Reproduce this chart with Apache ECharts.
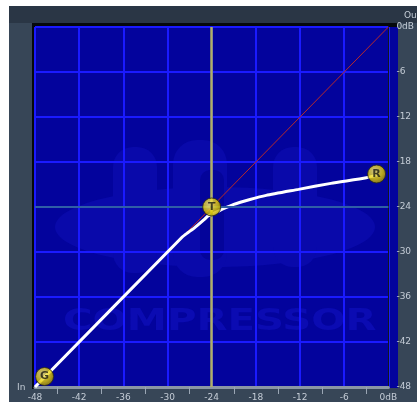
<!DOCTYPE html>
<html>
<head>
<meta charset="utf-8">
<script src="https://cdn.jsdelivr.net/npm/echarts@6/dist/echarts.min.js"></script>
<style>
  html, body { margin: 0; padding: 0; background: #fff; }
  #chart { width: 417px; height: 402px; }
</style>
</head>
<body>
<div id="chart"></div>
<script>
// transfer curve (input dB -> output dB)
const inputDb = [-48, -28, -27.2, -26.3, -25, -24.5, -23.5, -22.55, -21, -18.8, -16.6, -12.2, -7.8, -3, -1.6]
const outputDb = [-48, -28, -27.4, -26.75, -25.65, -25.2, -24.75, -24.3, -23.65, -23.0, -22.45, -21.65, -20.85, -20.1, -19.75]

// unity (1:1) reference line
const unityIn = [-48, 0]
const unityOut = [-48, 0]

// handles
const handleNames = ['G', 'T', 'R']
const handleIn = [-46.7, -24, -1.6]
const handleOut = [-46.6, -24, -19.6]

const thresholdDb = -24
const axisMin = -48
const axisMax = 0
const axisStep = 6

const chart = echarts.init(document.getElementById('chart'))

const labelText = (v) => (v === 0 ? '0dB' : String(v))
const labelStyle = { color: '#c4ccd6', fontSize: 9, fontFamily: 'DejaVu Sans' }

const handleGradient = new echarts.graphic.RadialGradient(0.4, 0.35, 0.7, [
  { offset: 0, color: '#fff27a' },
  { offset: 0.6, color: '#e6cf00' },
  { offset: 1, color: '#9a8600' },
])

// logo colour, a little lighter than the plot background
const logo = '#0909aa'

chart.setOption({
  backgroundColor: '#374657',
  animation: false,
  graphic: [
    // white outer margin
    { type: 'rect', z: -20, shape: { x: 0, y: 0, width: 417, height: 6 }, style: { fill: '#ffffff' } },
    { type: 'rect', z: -20, shape: { x: 0, y: 0, width: 9, height: 402 }, style: { fill: '#ffffff' } },
    // top bar
    { type: 'rect', z: -19, shape: { x: 9, y: 6, width: 408, height: 17 }, style: { fill: '#2a3645' } },
    // shadow on top and left of plot
    { type: 'rect', z: -18, shape: { x: 32, y: 23, width: 366, height: 4 }, style: { fill: '#05080c' } },
    { type: 'rect', z: -18, shape: { x: 32, y: 23, width: 4, height: 366 }, style: { fill: '#05080c' } },
    // plot background
    { type: 'rect', z: -17, shape: { x: 35, y: 27, width: 363, height: 361 }, style: { fill: '#03039c' } },
    // watermark logo
    { type: 'ellipse', z: -16, shape: { cx: 215, cy: 227, rx: 160, ry: 40 }, style: { fill: logo } },
    { type: 'rect', z: -16, shape: { x: 113, y: 147, width: 44, height: 126, r: 20 }, style: { fill: logo } },
    { type: 'rect', z: -16, shape: { x: 173, y: 140, width: 54, height: 137, r: 24 }, style: { fill: logo } },
    { type: 'rect', z: -16, shape: { x: 273, y: 147, width: 44, height: 120, r: 20 }, style: { fill: logo } },
    { type: 'rect', z: -15, shape: { x: 200, y: 170, width: 24, height: 90, r: 10 }, style: { fill: '#04049a' } },
    {
      type: 'text', z: -15, x: 63, y: 306, scaleX: 1.3,
      style: { text: 'COMPRESSOR', font: 'bold 31px "DejaVu Sans"', fill: '#0b0bb2' },
    },
    // axis titles
    { type: 'text', left: 404, top: 11, style: { text: 'Out', fill: '#c4ccd6', font: '9px "DejaVu Sans"' } },
    { type: 'text', left: 17, top: 383, style: { text: 'In', fill: '#c4ccd6', font: '9px "DejaVu Sans"' } },
  ],
  grid: {
    left: 35, right: 19, top: 27, bottom: 14,
    show: false,
  },
  xAxis: {
    type: 'value', min: axisMin, max: axisMax, interval: axisStep,
    axisLine: { show: true, onZero: false, lineStyle: { color: '#8a96a4', width: 3 } },
    axisTick: { show: false },
    minorTick: { show: true, splitNumber: 2, length: 7, lineStyle: { color: '#9aa6b4', width: 1 } },
    axisLabel: { ...labelStyle, margin: 6, formatter: labelText },
    splitLine: { show: true, lineStyle: { color: '#1a1aff', width: 2 } },
  },
  yAxis: {
    type: 'value', min: axisMin, max: axisMax, interval: axisStep, position: 'right',
    axisLine: { show: true, onZero: false, lineStyle: { color: '#101820', width: 1 } },
    axisTick: { show: false },
    axisLabel: { ...labelStyle, margin: 8, formatter: labelText },
    splitLine: { show: true, lineStyle: { color: '#1a1aff', width: 2 } },
  },
  series: [
    {
      type: 'line',
      data: unityIn.map((v, i) => [v, unityOut[i]]),
      symbol: 'none',
      lineStyle: { color: '#b82a2a', width: 1 },
      z: 3,
      markLine: {
        silent: true, symbol: 'none', label: { show: false },
        data: [
          { xAxis: thresholdDb, lineStyle: { color: '#b0b064', width: 2.5, type: 'solid' } },
          { yAxis: thresholdDb, lineStyle: { color: '#2f5ea6', width: 2, type: 'solid' } },
        ],
      },
    },
    {
      type: 'line',
      data: inputDb.map((v, i) => [v, outputDb[i]]),
      symbol: 'none',
      smooth: 0.2,
      lineStyle: { color: '#ffffff', width: 3 },
      z: 4,
    },
    {
      type: 'scatter',
      data: handleNames.map((n, i) => ({ name: n, value: [handleIn[i], handleOut[i]] })),
      symbolSize: 18,
      itemStyle: { color: handleGradient, borderColor: '#2a2a10', borderWidth: 1 },
      label: {
        show: true, position: 'inside', formatter: (p) => p.name,
        color: '#1a1a10', fontSize: 11, fontWeight: 'bold', fontFamily: 'DejaVu Sans',
      },
      z: 5,
    },
  ],
})
</script>
</body>
</html>
